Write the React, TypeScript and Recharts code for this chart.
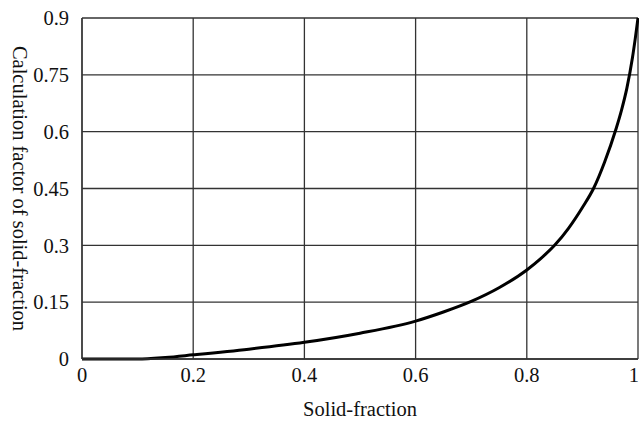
import React from 'react';
import { LineChart, Line, XAxis, YAxis, CartesianGrid } from 'recharts';

const solidFraction = [0, 0.1, 0.15, 0.2, 0.3, 0.4, 0.5, 0.6, 0.65, 0.7, 0.75, 0.8, 0.825, 0.85, 0.875, 0.9, 0.92, 0.94, 0.96, 0.97, 0.98, 0.99, 0.995, 1.0];
const calcFactor = [0, 0, 0.004, 0.011, 0.026, 0.044, 0.068, 0.1, 0.124, 0.152, 0.188, 0.235, 0.265, 0.3, 0.345, 0.4, 0.45, 0.52, 0.605, 0.655, 0.715, 0.795, 0.845, 0.9];
const xTicks = [0, 0.2, 0.4, 0.6, 0.8, 1];
const yTicks = [0, 0.15, 0.3, 0.45, 0.6, 0.75, 0.9];

const data = solidFraction.map((x, i) => ({ x, y: calcFactor[i] }));

const font = '"Liberation Serif", "Times New Roman", serif';

export default function App() {
  return (
    <div style={{ width: 639, height: 421, background: '#fff' }}>
      <style>{`body{margin:0}`}</style>
      <LineChart width={639} height={421} data={data} margin={{ top: 18, right: 1, left: 0, bottom: 0 }}>
        <CartesianGrid stroke="#333" strokeWidth={1.3} horizontalValues={yTicks} verticalValues={xTicks} />
        <XAxis
          type="number"
          dataKey="x"
          domain={[0, 1]}
          ticks={xTicks}
          tickLine={false}
          axisLine={{ stroke: '#333', strokeWidth: 1.3 }}
          height={62}
          tick={{ fill: '#111', fontSize: 20.5, fontFamily: font }}
          tickMargin={2}
          label={{ value: 'Solid-fraction', position: 'insideBottom', offset: 5, fill: '#111', fontSize: 20.5, fontFamily: font }}
        />
        <YAxis
          type="number"
          domain={[0, 0.9]}
          ticks={yTicks}
          tickLine={false}
          axisLine={{ stroke: '#333', strokeWidth: 1.3 }}
          width={82}
          tick={{ fill: '#111', fontSize: 20.5, fontFamily: font }}
          tickMargin={7}
          label={{ value: 'Calculation factor of solid-fraction', angle: 90, position: 'insideLeft', offset: 20, fill: '#111', fontSize: 20.5, fontFamily: font, style: { textAnchor: 'middle' } }}
        />
        <Line type="monotone" dataKey="y" stroke="#000" strokeWidth={3} dot={false} isAnimationActive={false} />
      </LineChart>
    </div>
  );
}
